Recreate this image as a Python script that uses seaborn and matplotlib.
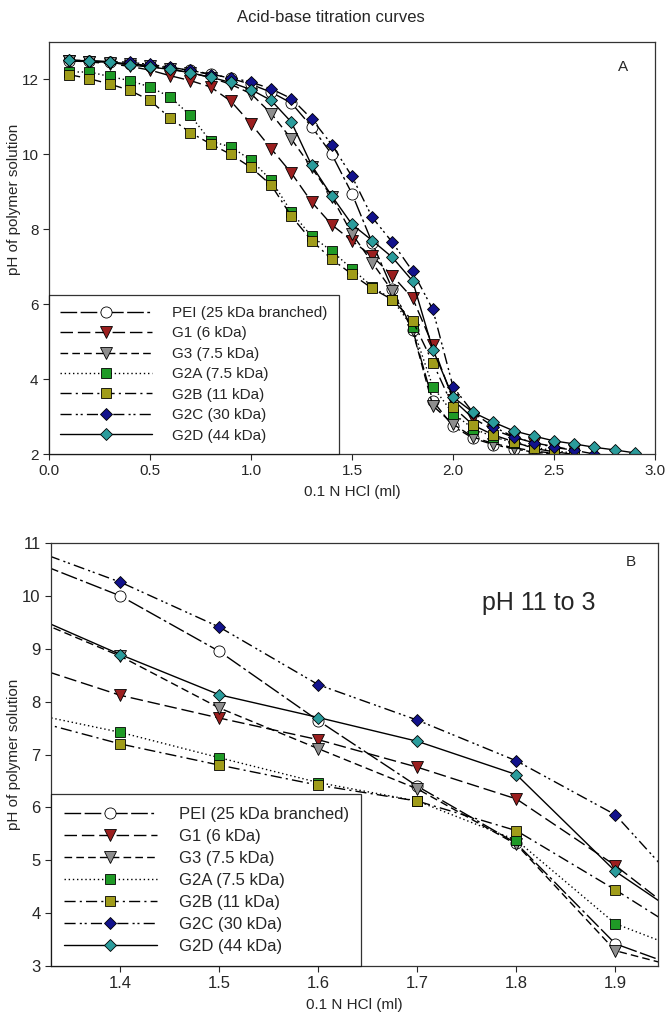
import numpy as np
import pandas as pd
import matplotlib
matplotlib.use("Agg")
import matplotlib.pyplot as plt
import seaborn as sns
from matplotlib.lines import Line2D

# volume of 0.1 N HCl added (ml)
hcl_ml = [0.1, 0.2, 0.3, 0.4, 0.5, 0.6, 0.7, 0.8, 0.9, 1.0,
          1.1, 1.2, 1.3, 1.4, 1.5, 1.6, 1.7, 1.8, 1.9, 2.0,
          2.1, 2.2, 2.3, 2.4, 2.5, 2.6, 2.7, 2.8, 2.9]

# pH readings, starting at 0.1 ml
ph_pei = [12.50, 12.49, 12.46, 12.42, 12.37, 12.31, 12.24, 12.15, 12.03, 11.87,
          11.66, 11.37, 10.74, 10.00, 8.95, 7.64, 6.40, 5.32, 3.42, 2.74,
          2.42, 2.25, 2.14, 2.05, 2.00]
ph_g1 = [12.50, 12.47, 12.42, 12.35, 12.25, 12.10, 11.97, 11.80, 11.42, 10.82,
         10.15, 9.50, 8.73, 8.12, 7.69, 7.28, 6.76, 6.16, 4.90, 3.45,
         2.95, 2.65, 2.45, 2.30, 2.20, 2.10]
ph_g3 = [12.50, 12.48, 12.45, 12.40, 12.35, 12.28, 12.18, 12.05, 11.87, 11.62,
         11.09, 10.41, 9.65, 8.86, 7.88, 7.11, 6.35, 5.30, 3.29, 2.80,
         2.45, 2.28, 2.17, 2.08, 2.02]
ph_g2a = [12.20, 12.20, 12.08, 11.97, 11.80, 11.53, 11.04, 10.35, 10.20, 9.85,
          9.31, 8.46, 7.81, 7.42, 6.94, 6.47, 6.12, 5.38, 3.80, 3.08,
          2.68, 2.46, 2.30, 2.18, 2.09, 2.02]
ph_g2b = [12.13, 12.02, 11.88, 11.71, 11.44, 10.97, 10.58, 10.28, 10.00, 9.65,
          9.18, 8.35, 7.70, 7.20, 6.80, 6.42, 6.12, 5.56, 4.44, 3.26,
          2.77, 2.51, 2.33, 2.15, 2.06, 1.99]
ph_g2c = [12.52, 12.50, 12.48, 12.46, 12.40, 12.33, 12.24, 12.13, 12.05, 11.93,
          11.75, 11.49, 10.95, 10.26, 9.41, 8.32, 7.65, 6.88, 5.86, 3.80,
          3.10, 2.73, 2.46, 2.30, 2.18, 2.10, 2.00]
ph_g2d = [12.51, 12.50, 12.46, 12.39, 12.33, 12.27, 12.18, 12.06, 11.92, 11.73,
          11.44, 10.86, 9.71, 8.89, 8.13, 7.70, 7.25, 6.62, 4.79, 3.52,
          3.11, 2.85, 2.62, 2.48, 2.35, 2.27, 2.18, 2.11, 2.03]

labels = ["PEI (25 kDa branched)", "G1 (6 kDa)", "G3 (7.5 kDa)", "G2A (7.5 kDa)",
          "G2B (11 kDa)", "G2C (30 kDa)", "G2D (44 kDa)"]
series = [ph_pei, ph_g1, ph_g3, ph_g2a, ph_g2b, ph_g2c, ph_g2d]

# look of each curve
styles = [
    dict(ls=(0, (12, 2.5, 12, 2.5, 2, 2.5)), marker="o", mfc="white", ms=8),
    dict(ls=(0, (9, 3.5)), marker="v", mfc="#9b1f1f", ms=8),
    dict(ls=(0, (5.5, 3)), marker="v", mfc="#8e8e8e", ms=8),
    dict(ls=(0, (1, 2)), marker="s", mfc="#1f9a26", ms=7),
    dict(ls=(0, (8, 3, 1.5, 3)), marker="s", mfc="#a09c1a", ms=7),
    dict(ls=(0, (8, 3, 1.5, 2, 1.5, 3)), marker="D", mfc="#12128c", ms=6.5),
    dict(ls="-", marker="D", mfc="#2b9c9c", ms=6.5),
]

sns.set_theme(style="ticks")
plt.rcParams["font.family"] = ["Liberation Sans", "DejaVu Sans"]

fig = plt.figure(figsize=(6.66, 10.30), dpi=100)
ax1 = fig.add_axes([0.0736, 0.5592, 0.9099, 0.4000])
ax2 = fig.add_axes([0.0766, 0.0621, 0.9114, 0.4107])


def draw(ax, fs, hl):
    for lab, vals, st in zip(labels, series, styles):
        df = pd.DataFrame({"ml": hcl_ml[:len(vals)], "ph": vals})
        sns.lineplot(data=df, x="ml", y="ph", ax=ax, color="black", lw=1.0,
                     linestyle=st["ls"], marker=st["marker"], markersize=st["ms"],
                     markerfacecolor=st["mfc"], markeredgecolor="black",
                     markeredgewidth=0.6, errorbar=None, sort=False)
    handles = [Line2D([], [], color="black", lw=1.0, linestyle=st["ls"],
                      marker=st["marker"], markersize=st["ms"],
                      markerfacecolor=st["mfc"], markeredgecolor="black",
                      markeredgewidth=0.6) for st in styles]
    leg = ax.legend(handles, labels, loc="lower left", fontsize=fs,
                    handlelength=hl, handletextpad=1.3, labelspacing=0.42,
                    borderpad=0.75, borderaxespad=0, frameon=True,
                    fancybox=False, numpoints=1)
    leg.get_frame().set_edgecolor("black")
    leg.get_frame().set_linewidth(0.9)
    ax.set_xlabel("0.1 N HCl (ml)", fontsize=11, labelpad=5)
    ax.set_ylabel("pH of polymer solution", fontsize=11)
    ax.tick_params(labelsize=fs, direction="out", length=4, width=0.8)
    for sp in ax.spines.values():
        sp.set_linewidth(0.9)
        sp.set_color("#333333")


draw(ax1, 11, 6.0)
ax1.set_xlim(0, 3.0)
ax1.set_ylim(2, 13)
ax1.set_xticks(np.arange(0, 3.01, 0.5))
ax1.set_xticklabels(["0.0", "0.5", "1.0", "1.5", "2.0", "2.5", "3.0"])
ax1.set_yticks([2, 4, 6, 8, 10, 12])
ax1.yaxis.set_label_coords(-0.047, 0.617)
ax1.text(0.948, 0.939, "A", transform=ax1.transAxes, fontsize=11, ha="center", va="center")

draw(ax2, 12, 5.6)
ax2.set_xlim(1.33, 1.943)
ax2.set_ylim(3, 11)
ax2.set_xticks([1.4, 1.5, 1.6, 1.7, 1.8, 1.9])
ax2.set_yticks(range(3, 12))
ax2.yaxis.set_label_coords(-0.05, 0.5)
ax2.text(0.955, 0.955, "B", transform=ax2.transAxes, fontsize=11, ha="center", va="center")
ax2.text(0.804, 0.858, "pH 11 to 3", transform=ax2.transAxes, fontsize=18, ha="center", va="center")

fig.text(0.497, 0.983, "Acid-base titration curves", fontsize=12, ha="center", va="center")

fig.savefig("out.png", dpi=100)
